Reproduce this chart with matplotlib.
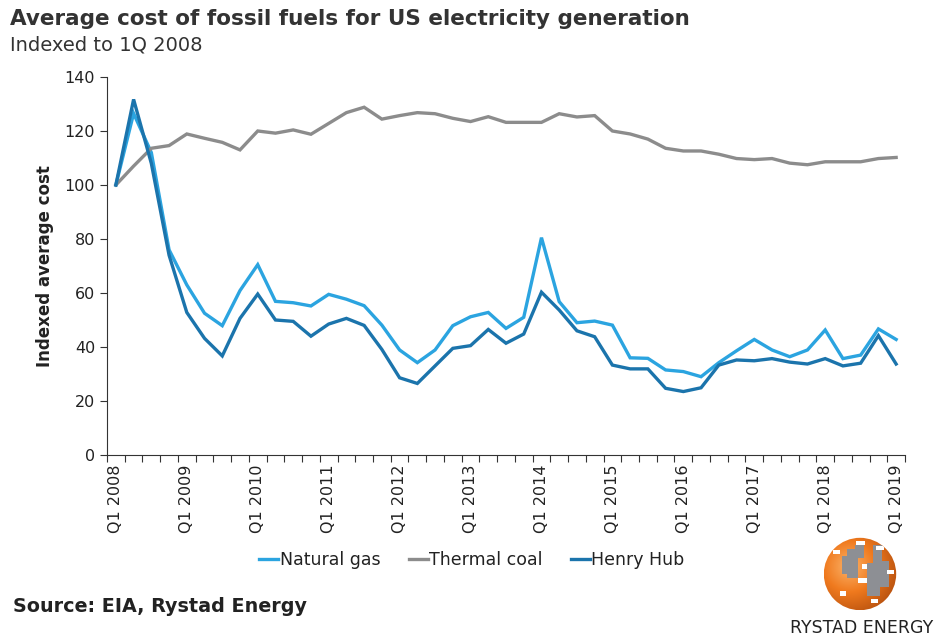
import numpy as np
import matplotlib
matplotlib.use("Agg")
from matplotlib import pyplot as plt
from matplotlib.patches import Circle, Rectangle
from matplotlib.colors import LinearSegmentedColormap

# quarterly values, Q1 2008 .. Q1 2019
natural_gas = [100, 126.5, 112, 76, 63, 52.5, 47.9, 60.9, 70.5, 56.9, 56.4, 55.2,
               59.5, 57.7, 55.3, 48.1, 38.9, 34.2, 38.9, 47.9, 51.2, 52.8, 46.9, 51,
               80.5, 56.8, 49, 49.6, 48.1, 36, 35.8, 31.5, 30.9, 29, 34.2, 38.6,
               42.8, 38.9, 36.4, 38.9, 46.3, 35.7, 37, 46.7, 42.8]
thermal_coal = [100, 107, 113.6, 114.6, 118.9, 117.3, 115.8, 113, 120, 119.2, 120.4, 118.8,
                122.8, 126.8, 128.8, 124.4, 125.7, 126.8, 126.4, 124.7, 123.5, 125.3, 123.2, 123.2,
                123.2, 126.4, 125.2, 125.7, 120, 118.9, 117, 113.6, 112.6, 112.6, 111.4, 109.8,
                109.4, 109.8, 108.1, 107.5, 108.6, 108.6, 108.6, 109.8, 110.2]
henry_hub = [100, 131.7, 108, 74, 52.8, 43.2, 36.7, 50.6, 59.6, 50, 49.5, 44,
             48.5, 50.6, 48, 39.1, 28.6, 26.5, 33, 39.5, 40.5, 46.5, 41.4, 44.8,
             60.3, 53.7, 46, 43.8, 33.3, 31.9, 31.9, 24.7, 23.5, 24.9, 33.3, 35.2,
             34.9, 35.7, 34.4, 33.7, 35.7, 33, 34, 44.2, 33.7]
years = list(range(2008, 2020))
tick_labels = ["Q1 %d" % y for y in years]

series_names = ["Natural gas", "Thermal coal", "Henry Hub"]
colors = ["#2ba4e0", "#8c8c8c", "#1b74ac"]

fig = plt.figure(figsize=(9.36, 6.38), dpi=100)
ax = fig.add_axes([107 / 936, 1 - 455 / 638, 798 / 936, 378 / 638])

x = np.arange(len(natural_gas))
for vals, name, c in zip([natural_gas, thermal_coal, henry_hub], series_names, colors):
    ax.plot(x, vals, color=c, lw=2.4, label=name, solid_joinstyle="miter")

ax.set_xlim(-0.5, len(x) - 0.5)
ax.set_ylim(0, 140)
ax.set_yticks(np.arange(0, 141, 20))
ax.tick_params(axis="y", labelsize=11.5, length=5, color="#333333", labelcolor="#222222")

# tick marks between quarters, labels on every Q1
ax.set_xticks(np.arange(-0.5, len(x), 1))
ax.set_xticklabels([])
ax.tick_params(axis="x", which="major", length=5, color="#333333")
ax.set_xticks(np.arange(0, len(x), 4), minor=True)
ax.set_xticklabels(tick_labels, minor=True, rotation=90, fontsize=11.5, color="#222222")
ax.tick_params(axis="x", which="minor", length=0, pad=7)

for s in ["top", "right"]:
    ax.spines[s].set_visible(False)
for s in ["left", "bottom"]:
    ax.spines[s].set_color("#333333")

ax.set_ylabel("Indexed average cost", fontsize=12, fontweight="bold", color="#222222", labelpad=8)

leg = fig.legend(loc="center", bbox_to_anchor=(472 / 936, 1 - 560 / 638), ncol=3, frameon=False,
                 fontsize=12.5, handlelength=1.1, handletextpad=0.1, columnspacing=1.6)
for t in leg.get_texts():
    t.set_color("#222222")

fig.text(10 / 936, 1 - 19 / 638, "Average cost of fossil fuels for US electricity generation",
         fontsize=15.5, fontweight="bold", color="#333333", va="center")
fig.text(10 / 936, 1 - 45 / 638, "Indexed to 1Q 2008", fontsize=14, color="#333333", va="center")
fig.text(13 / 936, 1 - 607 / 638, "Source: EIA, Rystad Energy", fontsize=13.8, fontweight="bold",
         color="#222222", va="center")
fig.text(862 / 936, 1 - 628 / 638, "RYSTAD ENERGY", fontsize=12.5, color="#222222",
         va="center", ha="center")

# logo
lax = fig.add_axes([820 / 936, 1 - 612 / 638, 80 / 936, 76 / 638])
lax.set_xlim(-1.05, 1.05)
lax.set_ylim(-1.05, 1.05)
lax.set_aspect("equal")
lax.axis("off")
circ = Circle((0, 0), 1, transform=lax.transData, facecolor="none")
lax.add_patch(circ)
gx, gy = np.meshgrid(np.linspace(-1, 1, 200), np.linspace(-1, 1, 200))
r = np.hypot(gx + 0.3, gy - 0.2)
cmap = LinearSegmentedColormap.from_list("or", ["#fbb36a", "#f07a1e", "#b9520f"])
im = lax.imshow(r, extent=(-1, 1, -1, 1), cmap=cmap, origin="lower", vmin=0, vmax=1.4)
im.set_clip_path(circ)
grey_blocks = [(-0.35, -0.1, 0.3, 0.8), (-0.5, 0.0, 0.2, 0.5), (0.2, -0.6, 0.35, 0.9),
               (0.35, 0.2, 0.25, 0.6), (-0.15, 0.45, 0.25, 0.35), (0.55, -0.35, 0.25, 0.7)]
for bx, by, bw, bh in grey_blocks:
    p = lax.add_patch(Rectangle((bx, by), bw, bh, facecolor="#8d8f94", edgecolor="none"))
    p.set_clip_path(circ)
white_blocks = [(-0.75, 0.55, 0.2, 0.12), (-0.1, 0.8, 0.25, 0.1), (0.45, 0.65, 0.2, 0.12),
                (-0.05, -0.25, 0.25, 0.15), (0.3, -0.8, 0.2, 0.12), (0.75, 0.0, 0.2, 0.12),
                (-0.55, -0.6, 0.15, 0.12), (0.05, 0.15, 0.15, 0.12)]
for bx, by, bw, bh in white_blocks:
    p = lax.add_patch(Rectangle((bx, by), bw, bh, facecolor="white", edgecolor="none"))
    p.set_clip_path(circ)

fig.savefig("out.png", dpi=100)
